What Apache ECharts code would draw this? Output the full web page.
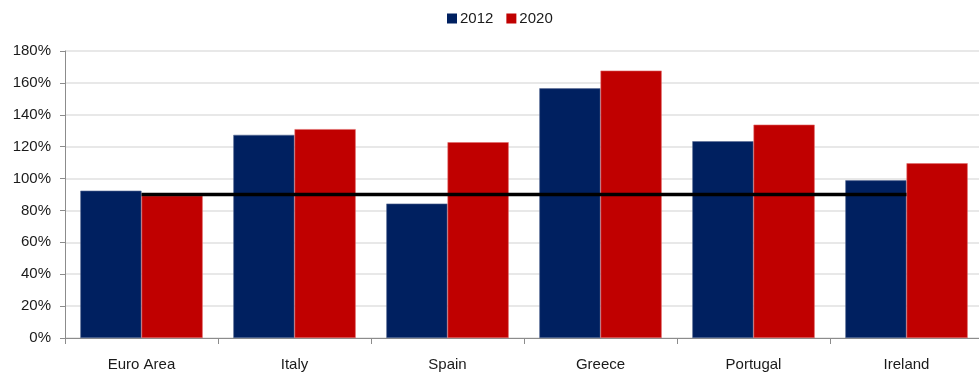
<!DOCTYPE html>
<html>
<head>
<meta charset="utf-8">
<script src="https://cdn.jsdelivr.net/npm/echarts@6/dist/echarts.min.js"></script>
<style>
  html, body { margin: 0; padding: 0; background: #fff; overflow: hidden; }
  #chart { width: 992px; height: 376px; }
</style>
</head>
<body>
<div id="chart"></div>
<script>
// Government debt as a share of GDP, by country
const categories = ['Euro Area', 'Italy', 'Spain', 'Greece', 'Portugal', 'Ireland'];
const debt2012 = [92.4, 127.4, 84.3, 156.6, 123.4, 98.9];
const debt2020 = [89.3, 131.0, 122.8, 167.7, 133.8, 109.6];
const threshold = [90, 90, 90, 90, 90, 90];
const yTicks = [0, 20, 40, 60, 80, 100, 120, 140, 160, 180];

const font = 'Liberation Sans, Arial, sans-serif';
const chart = echarts.init(document.getElementById('chart'));
chart.setOption({
  animation: false,
  textStyle: { fontFamily: font },
  legend: {
    top: 6,
    left: 442,
    itemWidth: 10,
    itemHeight: 10,
    itemGap: 13,
    icon: 'rect',
    itemStyle: { borderWidth: 0 },
    data: ['2012', '2020'],
    textStyle: { fontSize: 15, color: '#1a1a1a', fontFamily: font, padding: [0, 0, 0, -2] }
  },
  grid: { left: 65, right: 9, top: 51, bottom: 38, containLabel: false },
  xAxis: {
    type: 'category',
    data: categories,
    boundaryGap: true,
    axisLine: { lineStyle: { color: '#8c8c8c', width: 1 } },
    axisTick: { show: true, length: 6, lineStyle: { color: '#8c8c8c' } },
    axisLabel: { fontSize: 15, color: '#1a1a1a', margin: 19, fontFamily: font }
  },
  yAxis: {
    type: 'value',
    min: yTicks[0],
    max: yTicks[yTicks.length - 1],
    interval: 20,
    axisLine: { show: true, lineStyle: { color: '#8c8c8c', width: 1 } },
    axisTick: { show: true, length: 5, lineStyle: { color: '#8c8c8c' } },
    axisLabel: { fontSize: 15, color: '#1a1a1a', margin: 14, formatter: '{value}%', fontFamily: font },
    splitLine: { lineStyle: { color: '#e0e0e0', width: 1.5 } }
  },
  series: [
    {
      name: '2012',
      type: 'bar',
      data: debt2012,
      barGap: '0%',
      barCategoryGap: '20%',
      itemStyle: { color: '#002060', borderColor: '#5a6d96', borderWidth: 0.6 }
    },
    {
      name: '2020',
      type: 'bar',
      data: debt2020,
      barGap: '0%',
      barCategoryGap: '20%',
      itemStyle: { color: '#c00000', borderColor: '#e06a6a', borderWidth: 0.6 }
    },
    {
      name: 'threshold',
      type: 'line',
      data: threshold,
      symbol: 'none',
      z: 5,
      lineStyle: { color: '#000', width: 3.5 }
    }
  ]
});
</script>
</body>
</html>
